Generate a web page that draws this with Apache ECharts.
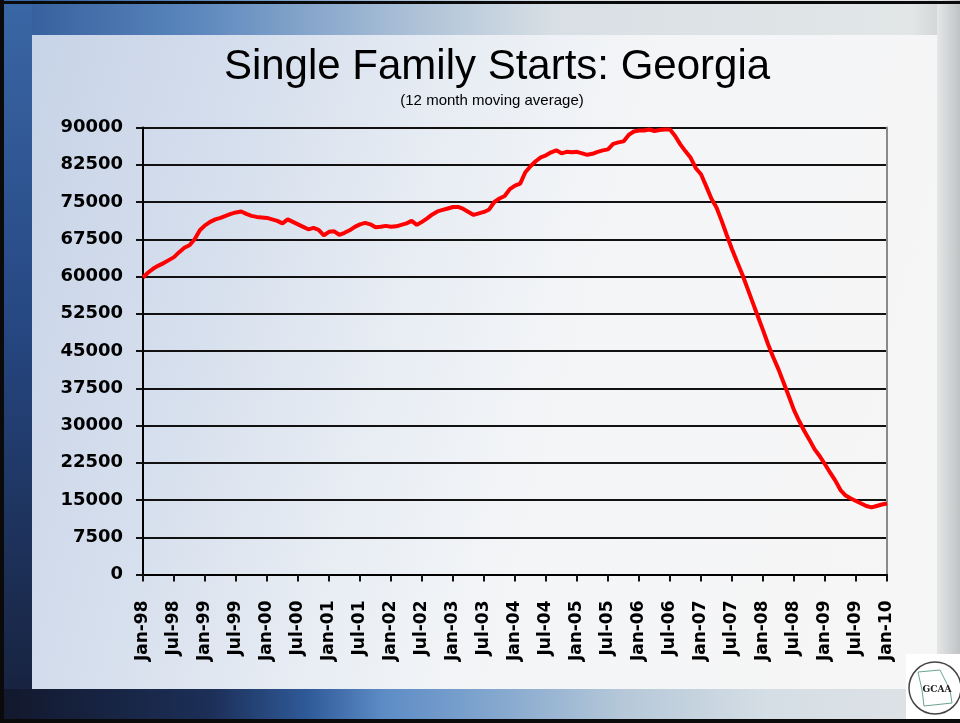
<!DOCTYPE html>
<html>
<head>
<meta charset="utf-8">
<script src="https://cdn.jsdelivr.net/npm/echarts@6/dist/echarts.min.js"></script>
<style>
  html, body { margin:0; padding:0; width:960px; height:723px; overflow:hidden; background:#1a2540; }
  .abs { position:absolute; }
</style>
</head>
<body>
<div class="abs" style="left:0;top:0;width:960px;height:723px;background:linear-gradient(90deg,#1b2a4e 0%,#2a4f8d 25%,#5d8bc3 42%,#a9bfd6 60%,#dfe5ea 80%,#e4e6e7 97%,#bfc2c4 100%);"></div>
<div class="abs" style="left:0;top:0;width:960px;height:35px;background:linear-gradient(90deg,#2f5a98 0%,#5a86bd 20%,#a9bfd6 42%,#d9e0e5 58%,#e2e6e7 95%,#c8cacb 100%);"></div>
<div class="abs" style="left:0;top:0;width:32px;height:723px;background:linear-gradient(180deg,#3a67a5 0%,#264782 45%,#16203a 100%);"></div>
<div class="abs" style="left:0;top:689px;width:960px;height:34px;background:linear-gradient(90deg,#12182c 0%,#1c2f58 22%,#2f5a98 32%,#5d8cc6 40%,#85a8cf 52%,#b6c8d9 65%,#d5dee5 80%,#dfe3e6 100%);"></div>
<div class="abs" style="left:937px;top:0;width:23px;height:723px;background:linear-gradient(90deg,#e4e6e7,#c0c3c5);"></div>
<div class="abs" style="left:32px;top:35px;width:905px;height:654px;background:linear-gradient(105deg,#c7d3e7 0%,#d6dfed 22%,#e9eef4 42%,#f4f5f7 58%,#f6f6f6 100%);"></div>
<div class="abs" style="left:0;top:1px;width:960px;height:3px;background:#0a0a0a;"></div>
<div class="abs" style="left:0;top:0;width:4px;height:723px;background:#0a0a0a;"></div>
<div class="abs" style="left:0;top:719px;width:960px;height:4px;background:#0a0a0a;"></div>
<div id="chart" class="abs" style="left:0;top:0;width:960px;height:723px;"></div>
<script>
// ---- data ----
const monthNames = ['Jan','Feb','Mar','Apr','May','Jun','Jul','Aug','Sep','Oct','Nov','Dec'];
const years = ['98','99','00','01','02','03','04','05','06','07','08','09'];
const lastCategory = 'Jan-10';
const tickLabels = ['Jan-98','Jul-98','Jan-99','Jul-99','Jan-00','Jul-00','Jan-01','Jul-01','Jan-02','Jul-02','Jan-03','Jul-03','Jan-04','Jul-04','Jan-05','Jul-05','Jan-06','Jul-06','Jan-07','Jul-07','Jan-08','Jul-08','Jan-09','Jul-09','Jan-10'];
const yTicks = [0,7500,15000,22500,30000,37500,45000,52500,60000,67500,75000,82500,90000];

const starts1998 = [59800,60800,61600,62200,62700,63300,63900,64900,65800,66300,67500,69300];
const starts1999 = [70300,71000,71500,71800,72200,72600,72900,73100,72600,72200,72000,71900];
const starts2000 = [71800,71500,71200,70700,71500,71000,70500,70000,69500,69800,69400,68300];
const starts2001 = [69000,69100,68400,68800,69300,70000,70500,70800,70500,69900,70000,70200];
const starts2002 = [70000,70100,70400,70700,71200,70400,71000,71700,72500,73100,73400,73700];
const starts2003 = [74000,74000,73600,73000,72400,72700,73000,73500,75000,75700,76200,77600];
const starts2004 = [78300,78700,81000,82200,83200,84000,84400,85000,85400,84800,85100,85000];
const starts2005 = [85100,84800,84500,84700,85100,85400,85600,86700,87000,87200,88500,89200];
const starts2006 = [89400,89400,89600,89300,89500,89600,89600,88300,86600,85200,83900,81800];
const starts2007 = [80600,78200,75700,73900,71200,68300,65500,62900,60400,57600,54800,52000];
const starts2008 = [49200,46300,43700,41300,38600,35900,33100,30900,28900,27100,25200,23800];
const starts2009 = [22200,20500,18900,17000,15900,15300,14800,14300,13800,13500,13800,14100];
const starts2010 = [14300];

// ---- build ----
const categories = [];
years.forEach(y => monthNames.forEach(m => categories.push(m + '-' + y)));
categories.push(lastCategory);
const values = [].concat(starts1998,starts1999,starts2000,starts2001,starts2002,starts2003,
  starts2004,starts2005,starts2006,starts2007,starts2008,starts2009,starts2010);

const chart = echarts.init(document.getElementById('chart'), null, {renderer:'canvas'});
chart.setOption({
  backgroundColor: 'transparent',
  animation: false,
  title: [
    { text: 'Single Family Starts: Georgia', left: 492, top: 41, textAlign: 'center',
      textStyle: { fontFamily: 'Liberation Sans, Arial, sans-serif', fontSize: 42, fontWeight: 'normal', color: '#000' } },
    { text: '(12 month moving average)', left: 487, top: 88, textAlign: 'center',
      textStyle: { fontFamily: 'Liberation Sans, Arial, sans-serif', fontSize: 15, fontWeight: 'normal', color: '#000' } }
  ],
  grid: { left: 143, right: 73, top: 127.5, bottom: 148.5, containLabel: false },
  xAxis: {
    type: 'category',
    data: categories,
    boundaryGap: false,
    axisLine: { lineStyle: { color: '#000', width: 2 } },
    axisTick: { show: true, interval: 5, length: 7, lineStyle: { color: '#111', width: 2 } },
    axisLabel: {
      interval: 5, rotate: 90, margin: 26,
      fontFamily: 'DejaVu Sans, sans-serif', fontWeight: 'bold', fontSize: 17, color: '#000',
      formatter: v => (tickLabels.indexOf(v) >= 0 ? v : '')
    },
    splitLine: { show: false }
  },
  yAxis: [
    {
      type: 'value', min: yTicks[0], max: yTicks[yTicks.length-1], interval: yTicks[1] - yTicks[0],
      axisLine: { show: true, lineStyle: { color: '#000', width: 2 } },
      axisTick: { show: true, length: 7, lineStyle: { color: '#111', width: 2 } },
      axisLabel: { margin: 20, fontFamily: 'DejaVu Sans, sans-serif', fontWeight: 'bold', fontSize: 18, color: '#000',
        formatter: v => String(v) },
      splitLine: { show: true, lineStyle: { color: '#111', width: 2 } }
    },
    {
      type: 'value', position: 'right', min: yTicks[0], max: yTicks[yTicks.length-1], interval: yTicks[1] - yTicks[0],
      axisLine: { show: true, lineStyle: { color: '#8a8a8a', width: 2 } },
      axisTick: { show: false }, axisLabel: { show: false }, splitLine: { show: false }
    }
  ],
  series: [{
    type: 'line',
    data: values,
    showSymbol: false,
    smooth: false,
    lineStyle: { color: '#ff0000', width: 4 },
    z: 5
  }],
  graphic: [
    { type: 'rect', left: 906, top: 654, shape: { width: 54, height: 65 }, style: { fill: '#ffffff' }, z: 10 },
    { type: 'circle', shape: { cx: 935, cy: 688, r: 26 }, style: { fill: '#ffffff', stroke: '#444', lineWidth: 1.5 }, z: 11 },
    { type: 'polygon', shape: { points: [[918,672],[940,670],[943,676],[950,690],[952,703],[924,706],[922,690]] },
      style: { fill: 'none', stroke: '#6aa58a', lineWidth: 1 }, z: 12 },
    { type: 'text', style: { x: 937, y: 690, text: 'GCAA', fill: '#222', font: 'bold 9px "DejaVu Serif", serif', align: 'center', verticalAlign: 'middle' }, z: 13 }
  ]
});
</script>
</body>
</html>
